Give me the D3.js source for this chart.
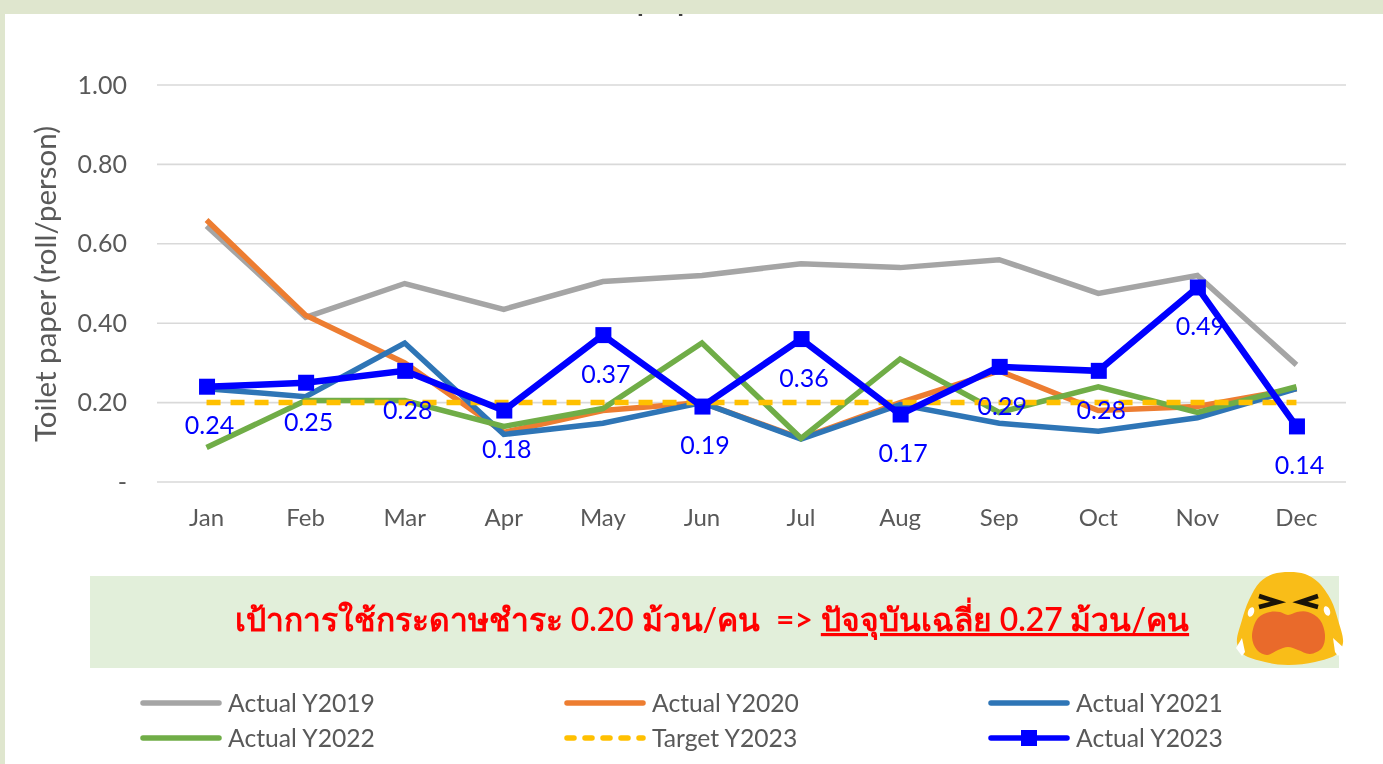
<!DOCTYPE html>
<html>
<head>
<meta charset="utf-8">
<script src="https://cdn.jsdelivr.net/npm/d3@7"></script>
<style>
  html, body { margin: 0; padding: 0; background: #fff; overflow: hidden; }
  text { font-family: Lato, "Noto Sans", sans-serif; }
  .chart svg { display: block; filter: blur(0.4px); }
</style>
</head>
<body>
<div class="chart"></div>
<script>
const months = ["Jan", "Feb", "Mar", "Apr", "May", "Jun", "Jul", "Aug", "Sep", "Oct", "Nov", "Dec"];
const yTicks = [0, 0.2, 0.4, 0.6, 0.8, 1];

const actual2019 = [0.645, 0.415, 0.50, 0.435, 0.505, 0.52, 0.55, 0.54, 0.56, 0.475, 0.52, 0.295];
const actual2020 = [0.66, 0.42, 0.30, 0.125, 0.18, 0.20, 0.11, 0.20, 0.28, 0.18, 0.19, 0.235];
const actual2021 = [0.235, 0.215, 0.35, 0.12, 0.148, 0.20, 0.108, 0.195, 0.148, 0.128, 0.162, 0.235];
const actual2022 = [0.087, 0.205, 0.205, 0.14, 0.185, 0.35, 0.11, 0.31, 0.175, 0.24, 0.175, 0.24];
const target2023 = [0.20, 0.20, 0.20, 0.20, 0.20, 0.20, 0.20, 0.20, 0.20, 0.20, 0.20, 0.20];
const actual2023 = [0.24, 0.25, 0.28, 0.18, 0.37, 0.19, 0.36, 0.17, 0.29, 0.28, 0.49, 0.14];

const seriesNames = ["Actual Y2019", "Actual Y2020", "Actual Y2021", "Actual Y2022", "Target Y2023", "Actual Y2023"];
const seriesValues = [actual2019, actual2020, actual2021, actual2022, target2023, actual2023];
const seriesColors = ["#a5a5a5", "#ed7d31", "#2e75b6", "#70ad47", "#ffc000", "#0000ff"];

const width = 1383, height = 764;
const margin = ({top: 85, right: 37, bottom: 282, left: 157});

const svg = d3.select(".chart").append("svg")
  .attr("width", width)
  .attr("height", height);

const xScale = d3.scaleBand()
  .domain(months)
  .range([margin.left, width - margin.right]);

const yScale = d3.scaleLinear()
  .domain([0, 1])
  .range([height - margin.bottom, margin.top]);

// title sits mostly under the top band, only the descenders show
svg.append("text")
  .attr("x", 636)
  .attr("y", 9)
  .attr("font-size", 38)
  .attr("fill", "#404040")
  .text("paper");

svg.append("rect").attr("width", width).attr("height", 14).attr("fill", "#dfe6ce");
svg.append("rect").attr("width", 5).attr("height", height).attr("fill", "#dfe6ce");

const yAxis = d3.axisLeft(yScale)
  .tickValues(yTicks)
  .tickSize(0)
  .tickPadding(30)
  .tickFormat(d => d === 0 ? "-" : d3.format(".2f")(d));

svg.append("g")
  .attr("class", "axis y-axis")
  .attr("transform", `translate(${margin.left},0)`)
  .call(yAxis)
  .call(g => g.select(".domain").remove())
  .call(g => g.selectAll("text").attr("font-size", 25).attr("fill", "#595959"));

svg.append("g")
  .attr("class", "grid")
  .selectAll("line")
  .data(yTicks)
  .enter()
  .append("line")
  .attr("x1", margin.left)
  .attr("x2", width - margin.right)
  .attr("y1", d => yScale(d))
  .attr("y2", d => yScale(d))
  .attr("stroke", "#d9d9d9")
  .attr("stroke-width", 1.6);

const xAxis = d3.axisBottom(xScale)
  .tickSize(0)
  .tickPadding(27);

svg.append("g")
  .attr("class", "axis x-axis")
  .attr("transform", `translate(0,${height - margin.bottom})`)
  .call(xAxis)
  .call(g => g.select(".domain").remove())
  .call(g => g.selectAll("text").attr("font-size", 24).attr("fill", "#595959"));

svg.append("text")
  .attr("transform", "translate(56,284) rotate(-90)")
  .attr("text-anchor", "middle")
  .attr("font-size", 29.5)
  .attr("fill", "#595959")
  .text("Toilet paper (roll/person)");

const line = d3.line()
  .x((d, i) => xScale(months[i]) + xScale.bandwidth() / 2)
  .y(d => yScale(d));

svg.selectAll(".series")
  .data(seriesValues)
  .enter()
  .append("path")
  .attr("class", "series")
  .attr("d", line)
  .attr("fill", "none")
  .attr("stroke", (d, i) => seriesColors[i])
  .attr("stroke-width", (d, i) => i === 5 ? 6.5 : 5.5)
  .attr("stroke-linejoin", "miter")
  .attr("stroke-dasharray", (d, i) => i === 4 ? "14 10" : null);

svg.selectAll(".marker")
  .data(actual2023)
  .enter()
  .append("rect")
  .attr("class", "marker")
  .attr("x", (d, i) => xScale(months[i]) + xScale.bandwidth() / 2 - 7.5)
  .attr("y", d => yScale(d) - 8)
  .attr("width", 16)
  .attr("height", 16)
  .attr("fill", "#0000ff");

svg.selectAll(".data-label")
  .data(actual2023)
  .enter()
  .append("text")
  .attr("class", "data-label")
  .attr("x", (d, i) => xScale(months[i]) + xScale.bandwidth() / 2 + 3)
  .attr("y", d => yScale(d) + 39)
  .attr("dy", ".35em")
  .attr("text-anchor", "middle")
  .attr("font-size", 25)
  .attr("fill", "#0000ff")
  .text(d => d3.format(".2f")(d));

// banner
svg.append("rect")
  .attr("x", 90).attr("y", 576)
  .attr("width", 1249).attr("height", 92)
  .attr("fill", "#e2efda");

const banner = svg.append("text")
  .attr("x", 712)
  .attr("y", 631)
  .attr("text-anchor", "middle")
  .attr("font-size", 31.8)
  .attr("font-weight", 600)
  .attr("fill", "#ff0000")
  .attr("xml:space", "preserve");
banner.append("tspan").text("เป้าการใช้กระดาษชำระ 0.20 ม้วน/คน  => ");
banner.append("tspan").attr("text-decoration", "underline").text("ปัจจุบันเฉลี่ย 0.27 ม้วน/คน");

// crying face
const blob = d3.line().curve(d3.curveCatmullRomClosed);
const face = svg.append("g").attr("transform", "translate(1290,620)");
face.append("path")
  .attr("d", blob([[0, -48], [-17, -46], [-30, -38], [-41, -20], [-48, 0], [-53, 23], [-47, 34], [-25, 42], [-2, 45], [25, 42], [47, 34], [53, 23], [48, 0], [41, -20], [28, -38], [15, -46]]))
  .attr("fill", "#f9bd18");
face.append("path")
  .attr("d", blob([[-32, -2], [-20, -8], [-10, -8], [-2, -5], [7, -8], [18, -8], [30, 0], [35, 15], [32, 28], [20, 34], [8, 30], [-2, 27], [-12, 30], [-23, 35], [-33, 30], [-38, 17]]))
  .attr("fill", "#e96a2b");
face.append("path").attr("d", "M-31,-24 L-12,-18 L-31,-13").attr("fill", "none").attr("stroke", "#1a1408").attr("stroke-width", 4.5);
face.append("path").attr("d", "M28,-24 L10,-18 L28,-13").attr("fill", "none").attr("stroke", "#1a1408").attr("stroke-width", 4.5);
face.append("ellipse").attr("cx", -39).attr("cy", -8).attr("rx", 3).attr("ry", 5).attr("fill", "#fff").attr("transform", "rotate(20 -39 -8)");
face.append("ellipse").attr("cx", 37).attr("cy", -9).attr("rx", 3).attr("ry", 5).attr("fill", "#fff").attr("transform", "rotate(-20 37 -9)");
face.append("path").attr("d", "M-48,18 L-54,28 L-48,36 L-45,32 Z").attr("fill", "#fff");
face.append("path").attr("d", "M43,18 L54,28 L48,36 L45,32 Z").attr("fill", "#fff");

// legend
const legendCols = [141, 565, 989];
const legendRows = [703, 738];

const legend = svg.selectAll(".legend")
  .data(seriesNames)
  .enter()
  .append("g")
  .attr("class", "legend")
  .attr("transform", (d, i) => `translate(${legendCols[i % 3]},${legendRows[Math.floor(i / 3)]})`);

legend.append("line")
  .attr("x1", 2)
  .attr("x2", 78)
  .attr("stroke", (d, i) => seriesColors[i])
  .attr("stroke-width", 5.5)
  .attr("stroke-linecap", "round")
  .attr("stroke-dasharray", (d, i) => i === 4 ? "7 11" : null);

legend.filter((d, i) => i === 5)
  .append("rect")
  .attr("x", 32)
  .attr("y", -8)
  .attr("width", 16)
  .attr("height", 16)
  .attr("fill", "#0000ff");

legend.append("text")
  .attr("x", 87)
  .attr("dy", ".35em")
  .attr("font-size", 24.7)
  .attr("fill", "#595959")
  .text(d => d);
</script>
</body>
</html>
